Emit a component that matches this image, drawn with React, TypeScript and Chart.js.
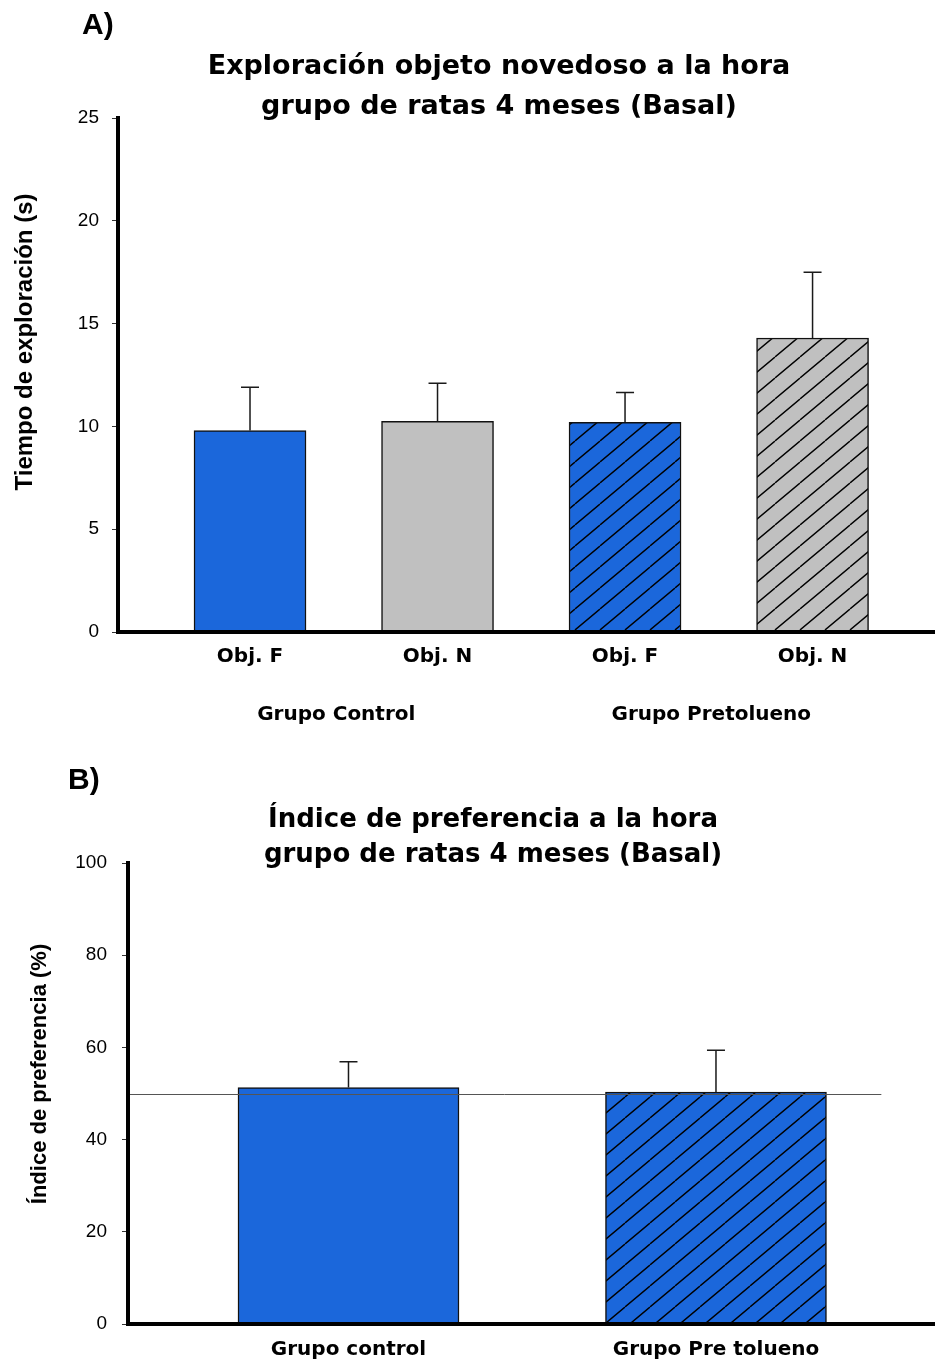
import React, { useEffect, useRef } from "react";
import { Chart, registerables } from "chart.js";

Chart.register(...registerables);

// Panel A: exploration time per object (s), mean and SEM
const objectLabels = ["Obj. F", "Obj. N", "Obj. F", "Obj. N"];
const groupLabelsA = ["Grupo Control", "Grupo Pretolueno"];
const explorationMeans = [9.8, 10.25, 10.2, 14.3];
const explorationSem = [2.1, 1.85, 1.45, 3.2];

// Panel B: preference index (%), mean and SEM
const groupLabelsB = ["Grupo control", "Grupo Pre tolueno"];
const preferenceMeans = [51.3, 50.3];
const preferenceSem = [5.6, 9.1];
const chanceLevel = 50;

const BLUE = "#1B67DB";
const GRAY = "#C0C0C0";
const TITLE_FONT = '"DejaVu Sans", sans-serif';
const ARIAL = '"Liberation Sans", Arial, sans-serif';

function hatch(base: string): CanvasPattern | string {
  const w = 25;
  const h = 21;
  const c = document.createElement("canvas");
  c.width = w;
  c.height = h;
  const g = c.getContext("2d");
  if (!g) return base;
  g.fillStyle = base;
  g.fillRect(0, 0, w, h);
  g.strokeStyle = "#000";
  g.lineWidth = 1.4;
  g.beginPath();
  for (const dx of [-w, 0, w]) {
    g.moveTo(dx, h);
    g.lineTo(dx + w, 0);
  }
  g.stroke();
  return g.createPattern(c, "repeat") || base;
}

function errorBars(sems: number[]) {
  return {
    id: "errorBars",
    afterDatasetsDraw(chart: any) {
      const { ctx } = chart;
      const y = chart.scales.y;
      const meta = chart.getDatasetMeta(0);
      const points = chart.data.datasets[0].data as { x: number; y: number }[];
      ctx.save();
      ctx.strokeStyle = "#1a1a1a";
      ctx.lineWidth = 1.5;
      meta.data.forEach((bar: any, i: number) => {
        const top = y.getPixelForValue(points[i].y + sems[i]);
        ctx.beginPath();
        ctx.moveTo(bar.x, bar.y);
        ctx.lineTo(bar.x, top);
        ctx.moveTo(bar.x - 9, top);
        ctx.lineTo(bar.x + 9, top);
        ctx.stroke();
      });
      ctx.restore();
    },
  };
}

interface PanelText {
  letter: string;
  letterX: number;
  letterY: number;
  titleLines: string[];
  titleX: number;
  titleY: number[];
  titleSize: number;
  axisTitle: string;
  axisTitleX: number;
  axisTitleY: number;
  axisTitleSize: number;
}

function panelText(t: PanelText) {
  return {
    id: "panelText",
    afterDraw(chart: any) {
      const { ctx } = chart;
      ctx.save();
      ctx.fillStyle = "#000";
      ctx.textBaseline = "alphabetic";

      ctx.font = `bold 30px ${ARIAL}`;
      ctx.textAlign = "left";
      ctx.fillText(t.letter, t.letterX, t.letterY);

      ctx.font = `bold ${t.titleSize}px ${TITLE_FONT}`;
      ctx.textAlign = "center";
      t.titleLines.forEach((line, i) => ctx.fillText(line, t.titleX, t.titleY[i]));

      ctx.save();
      ctx.translate(t.axisTitleX, t.axisTitleY);
      ctx.rotate(-Math.PI / 2);
      ctx.font = `bold ${t.axisTitleSize}px ${ARIAL}`;
      ctx.textAlign = "center";
      ctx.textBaseline = "middle";
      ctx.fillText(t.axisTitle, 0, 0);
      ctx.restore();

      ctx.restore();
    },
  };
}

const groupLabelsPlugin = {
  id: "groupLabels",
  afterDraw(chart: any) {
    const { ctx } = chart;
    const x = chart.scales.x;
    ctx.save();
    ctx.fillStyle = "#000";
    ctx.font = `bold 20px ${TITLE_FONT}`;
    ctx.textAlign = "center";
    ctx.textBaseline = "alphabetic";
    groupLabelsA.forEach((label, i) => {
      const cx = x.getPixelForValue(1.46 + 2 * i);
      ctx.fillText(label, cx, 719.5);
    });
    ctx.restore();
  },
};

const chanceLine = {
  id: "chanceLine",
  afterDatasetsDraw(chart: any) {
    const { ctx, chartArea } = chart;
    const y = chart.scales.y.getPixelForValue(chanceLevel);
    const xEnd = chart.scales.x.getPixelForValue(2.45);
    ctx.save();
    ctx.strokeStyle = "#555";
    ctx.lineWidth = 1;
    ctx.beginPath();
    ctx.moveTo(chartArea.left, Math.round(y) + 0.5);
    ctx.lineTo(xEnd, Math.round(y) + 0.5);
    ctx.stroke();
    ctx.restore();
  },
};

function buildExploration(canvas: HTMLCanvasElement) {
  return new Chart(canvas, {
    type: "bar",
    data: {
      datasets: [
        {
          data: explorationMeans.map((v, i) => ({ x: i + 1, y: v })),
          backgroundColor: [BLUE, GRAY, hatch(BLUE), hatch(GRAY)] as any,
          borderColor: "#111",
          borderWidth: 1.5,
          borderSkipped: false,
          barThickness: 112,
        },
      ],
    },
    options: {
      responsive: false,
      animation: false,
      devicePixelRatio: 1,
      layout: { padding: { top: 118, left: 0, right: 0, bottom: 0 } },
      plugins: {
        legend: { display: false },
        title: { display: false },
        tooltip: { enabled: false },
      },
      scales: {
        x: {
          type: "linear",
          offset: false,
          bounds: "data",
          min: 0.296,
          max: 4.653,
          afterBuildTicks: (s: any) => {
            s.ticks = objectLabels.map((_, i) => ({ value: i + 1 }));
          },
          afterFit: (s: any) => {
            s.height = 108;
          },
          grid: { display: false, offset: false },
          border: { display: true, color: "#000", width: 4, z: 1 },
          ticks: {
            callback: (v: any) => objectLabels[Math.round(Number(v)) - 1],
            font: { family: TITLE_FONT, size: 20, weight: "bold" },
            color: "#000",
            padding: 5,
            maxRotation: 0,
            autoSkip: false,
          },
        },
        y: {
          min: 0,
          max: 25,
          afterFit: (s: any) => {
            s.width = 118;
          },
          ticks: {
            stepSize: 5,
            font: { family: ARIAL, size: 19 },
            color: "#000",
            padding: 13,
          },
          grid: {
            drawOnChartArea: false,
            drawTicks: true,
            tickLength: 6,
            color: "#333",
            lineWidth: 1,
          },
          border: { color: "#000", width: 4, z: 1 },
        },
      },
    } as any,
    plugins: [
      errorBars(explorationSem),
      groupLabelsPlugin,
      panelText({
        letter: "A)",
        letterX: 82,
        letterY: 33.5,
        titleLines: ["Exploración objeto novedoso a la hora", "grupo de ratas 4 meses (Basal)"],
        titleX: 499,
        titleY: [74, 113.5],
        titleSize: 27,
        axisTitle: "Tiempo de exploración (s)",
        axisTitleX: 25,
        axisTitleY: 342,
        axisTitleSize: 24,
      }),
    ],
  });
}

function buildPreference(canvas: HTMLCanvasElement) {
  return new Chart(canvas, {
    type: "bar",
    data: {
      datasets: [
        {
          data: preferenceMeans.map((v, i) => ({ x: i + 1, y: v })),
          backgroundColor: [BLUE, hatch(BLUE)] as any,
          borderColor: "#111",
          borderWidth: 1.5,
          borderSkipped: false,
          barThickness: 221,
        },
      ],
    },
    options: {
      responsive: false,
      animation: false,
      devicePixelRatio: 1,
      layout: { padding: { top: 123, left: 0, right: 0, bottom: 0 } },
      plugins: {
        legend: { display: false },
        title: { display: false },
        tooltip: { enabled: false },
      },
      scales: {
        x: {
          type: "linear",
          offset: false,
          bounds: "data",
          min: 0.4,
          max: 2.596,
          afterBuildTicks: (s: any) => {
            s.ticks = groupLabelsB.map((_, i) => ({ value: i + 1 }));
          },
          afterFit: (s: any) => {
            s.height = 38;
          },
          grid: { display: false, offset: false },
          border: { display: true, color: "#000", width: 4, z: 1 },
          ticks: {
            callback: (v: any) => groupLabelsB[Math.round(Number(v)) - 1],
            font: { family: TITLE_FONT, size: 20, weight: "bold" },
            color: "#000",
            padding: 6,
            maxRotation: 0,
            autoSkip: false,
          },
        },
        y: {
          min: 0,
          max: 100,
          afterFit: (s: any) => {
            s.width = 128;
          },
          ticks: {
            stepSize: 20,
            font: { family: ARIAL, size: 19 },
            color: "#000",
            padding: 15,
          },
          grid: {
            drawOnChartArea: false,
            drawTicks: true,
            tickLength: 6,
            color: "#333",
            lineWidth: 1,
          },
          border: { color: "#000", width: 4, z: 1 },
        },
      },
    } as any,
    plugins: [
      chanceLine,
      errorBars(preferenceSem),
      panelText({
        letter: "B)",
        letterX: 68,
        letterY: 48.5,
        titleLines: ["Índice de preferencia a la hora", "grupo de ratas 4 meses (Basal)"],
        titleX: 493,
        titleY: [87, 122],
        titleSize: 26,
        axisTitle: "Índice de preferencia (%)",
        axisTitleX: 40,
        axisTitleY: 334,
        axisTitleSize: 22,
      }),
    ],
  });
}

export default function App() {
  const refA = useRef<HTMLCanvasElement>(null);
  const refB = useRef<HTMLCanvasElement>(null);

  useEffect(() => {
    if (!refA.current || !refB.current) return;
    const charts = [buildExploration(refA.current), buildPreference(refB.current)];
    return () => charts.forEach((c) => c.destroy());
  }, []);

  return (
    <div style={{ position: "absolute", left: 0, top: 0, width: 935, height: 1362, background: "#fff" }}>
      <canvas ref={refA} width={935} height={740} style={{ position: "absolute", left: 0, top: 0 }} />
      <canvas ref={refB} width={935} height={622} style={{ position: "absolute", left: 0, top: 740 }} />
    </div>
  );
}
